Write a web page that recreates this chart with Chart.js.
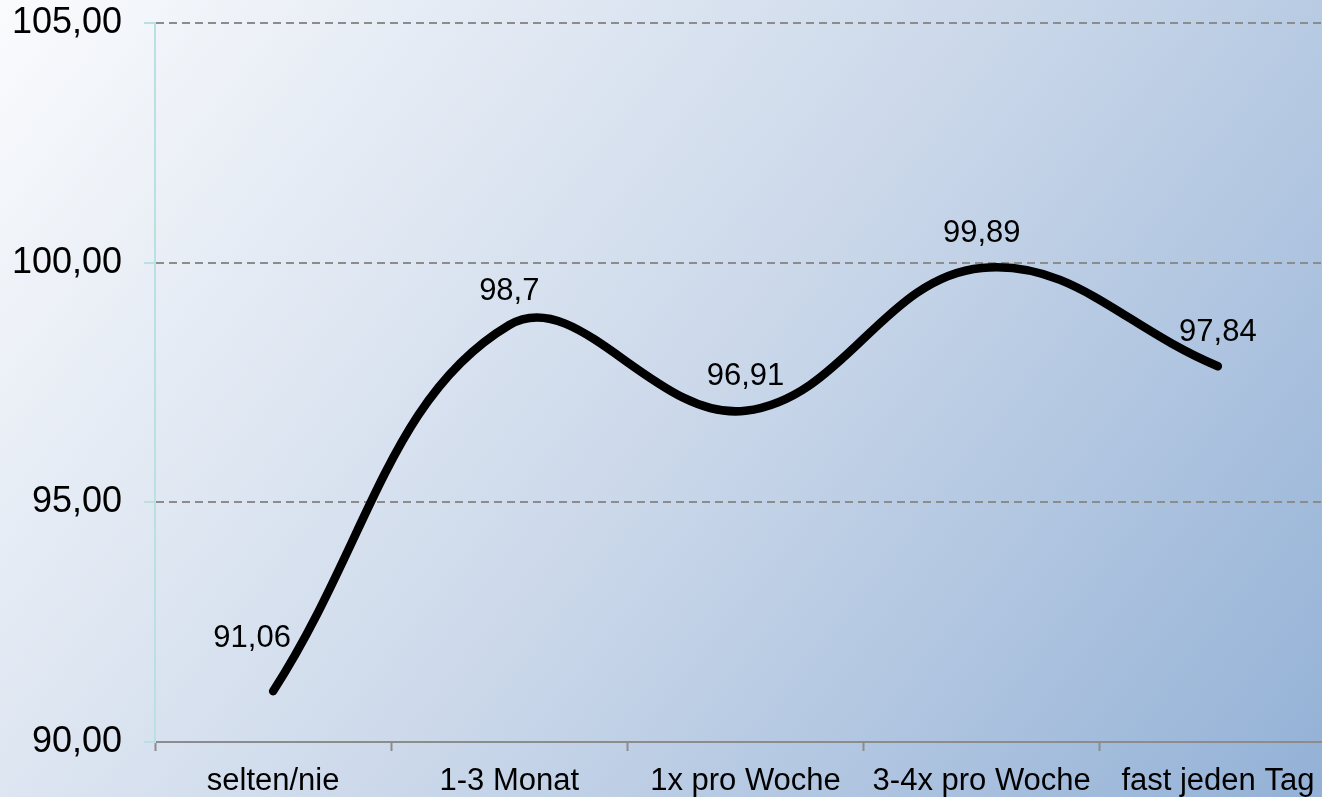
<!DOCTYPE html>
<html lang="de">
<head>
<meta charset="utf-8">
<title>Häufigkeit</title>
<script src="https://cdn.jsdelivr.net/npm/chart.js@4.4.1/dist/chart.umd.min.js"></script>
<style>
  html, body {
    margin: 0;
    padding: 0;
    width: 1322px;
    height: 797px;
    overflow: hidden;
    background: linear-gradient(128deg, #fafbfd 0%, #cbd8ea 52%, #93b1d6 100%);
  }
  #wrap {
    position: relative;
    width: 1340px;
    height: 797px;
  }
</style>
</head>
<body>
<div id="wrap"><canvas id="freqChart"></canvas></div>
<script>
const categories = ['selten/nie', '1-3 Monat', '1x pro Woche', '3-4x pro Woche', 'fast jeden Tag'];
const values = [91.06, 98.7, 96.91, 99.89, 97.84];
const yMin = 90;
const yMax = 105;
const yStep = 5;

const FONT = "'Liberation Sans', Arial, sans-serif";
const fmt = v => String(v).replace('.', ',');

// value labels above each point
const pointLabels = {
    id: 'pointLabels',
    afterDatasetsDraw(chart) {
        const ctx = chart.ctx;
        const meta = chart.getDatasetMeta(0);
        ctx.save();
        ctx.font = '31px ' + FONT;
        ctx.fillStyle = '#000';
        ctx.textAlign = 'center';
        ctx.textBaseline = 'middle';
        meta.data.forEach((pt, i) => {
            // first label sits up and to the left of its point
            const dx = i === 0 ? -21 : 0;
            const dy = i === 0 ? -53 : -34;
            ctx.fillText(fmt(values[i]), pt.x + dx, pt.y + dy);
        });
        ctx.restore();
    }
};

const ctx = document.getElementById('freqChart').getContext('2d');
new Chart(ctx, {
    type: 'line',
    data: {
        labels: categories,
        datasets: [{
            data: values,
            borderColor: '#000',
            borderWidth: 8.5,
            borderCapStyle: 'round',
            borderJoinStyle: 'round',
            tension: 0.4,
            pointRadius: 0,
            fill: false
        }]
    },
    options: {
        responsive: true,
        maintainAspectRatio: false,
        animation: false,
        layout: { padding: { top: 23, right: 4, left: 0, bottom: 0 } },
        plugins: {
            legend: { display: false },
            tooltip: { enabled: false }
        },
        scales: {
            x: {
                offset: true,
                afterFit: s => { s.height = 55; },
                grid: {
                    offset: true,
                    drawOnChartArea: false,
                    drawTicks: true,
                    tickLength: 9,
                    tickWidth: 2,
                    tickColor: '#8c8c8c'
                },
                border: { color: '#8c8c8c', width: 2 },
                ticks: {
                    color: '#000',
                    padding: 12,
                    maxRotation: 0,
                    autoSkip: false,
                    font: { family: FONT, size: 31 }
                }
            },
            y: {
                min: yMin,
                max: yMax,
                afterFit: s => {
                    s.width = 155;
                    s.paddingTop = 0;
                    s.paddingBottom = 0;
                },
                grid: {
                    color: '#8c8c8c',
                    lineWidth: 2,
                    tickColor: '#b9e0e2',
                    tickLength: 11,
                    tickWidth: 2
                },
                border: { color: '#b9e0e2', width: 2, dash: [8, 5] },
                ticks: {
                    stepSize: yStep,
                    color: '#000',
                    padding: 22,
                    font: { family: FONT, size: 36 },
                    callback: v => v.toFixed(2).replace('.', ',')
                }
            }
        }
    },
    plugins: [pointLabels]
});
</script>
</body>
</html>
